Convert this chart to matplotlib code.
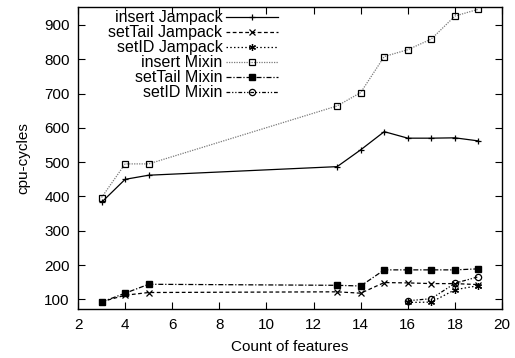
import matplotlib
matplotlib.use("Agg")
import matplotlib.pyplot as plt

plt.rcParams.update({"font.family": ["Liberation Sans", "DejaVu Sans"], "font.size": 11})

# features count (x) and cpu-cycles per series
x_all = [3, 4, 5, 13, 14, 15, 16, 17, 18, 19]
x_id = [16, 17, 18, 19]

insert_jampack = [383, 450, 462, 487, 536, 589, 570, 570, 571, 562]
settail_jampack = [93, 112, 120, 122, 118, 149, 148, 146, 146, 143]
setid_jampack = [91, 92, 128, 140]
insert_mixin = [397, 495, 495, 664, 703, 808, 828, 859, 926, 946]
settail_mixin = [92, 118, 144, 141, 139, 186, 186, 186, 186, 189]
setid_mixin = [96, 102, 147, 166]

fig = plt.figure(figsize=(5.15, 3.58), dpi=100)
ax = fig.add_axes([0.1515, 0.136, 0.8233, 0.844])

lw = 0.9
ax.plot(x_all, insert_jampack, color="black", lw=lw, ls="-", marker="+", ms=5,
        mew=0.9, label="insert Jampack")
ax.plot(x_all, settail_jampack, color="black", lw=lw, ls=(0, (3, 2)), marker="x", ms=4,
        mew=0.9, label="setTail Jampack")
ax.plot(x_id, setid_jampack, color="black", lw=lw, ls=(0, (1.2, 1.8)), marker=(6, 2, 0), ms=5,
        mew=0.9, label="setID Jampack")
ax.plot(x_all, insert_mixin, color="#7a7a7a", lw=lw, ls=(0, (1, 1)), marker="s", ms=4.5,
        mfc="none", mec="black", mew=0.9, label="insert Mixin")
ax.plot(x_all, settail_mixin, color="black", lw=lw, ls=(0, (4, 1.5, 1, 1.5)), marker="s", ms=5,
        mfc="black", mec="black", label="setTail Mixin")
ax.plot(x_id, setid_mixin, color="black", lw=lw, ls=(0, (3, 1.5, 1, 1.5, 1, 1.5)), marker="o",
        ms=4.5, mfc="none", mec="black", mew=0.9, label="setID Mixin")

ax.set_xlim(2, 20)
ax.set_ylim(71, 952)
ax.set_xticks(range(2, 21, 2))
ax.set_yticks(range(100, 901, 100))
ax.tick_params(direction="in", top=True, right=True, length=5, width=0.8, labelsize=11, pad=6)
for s in ax.spines.values():
    s.set_linewidth(1.0)

ax.set_xlabel("Count of features", fontsize=11, labelpad=6)
ax.set_ylabel("cpu-cycles", fontsize=11, labelpad=10)

ax.legend(loc="upper right", bbox_to_anchor=(0.48, 1.0), frameon=False, markerfirst=False,
          fontsize=11.5, handlelength=3.3, handletextpad=0.2, labelspacing=0.0,
          borderaxespad=0.1, borderpad=0.1)

fig.savefig("out.png", dpi=100)
